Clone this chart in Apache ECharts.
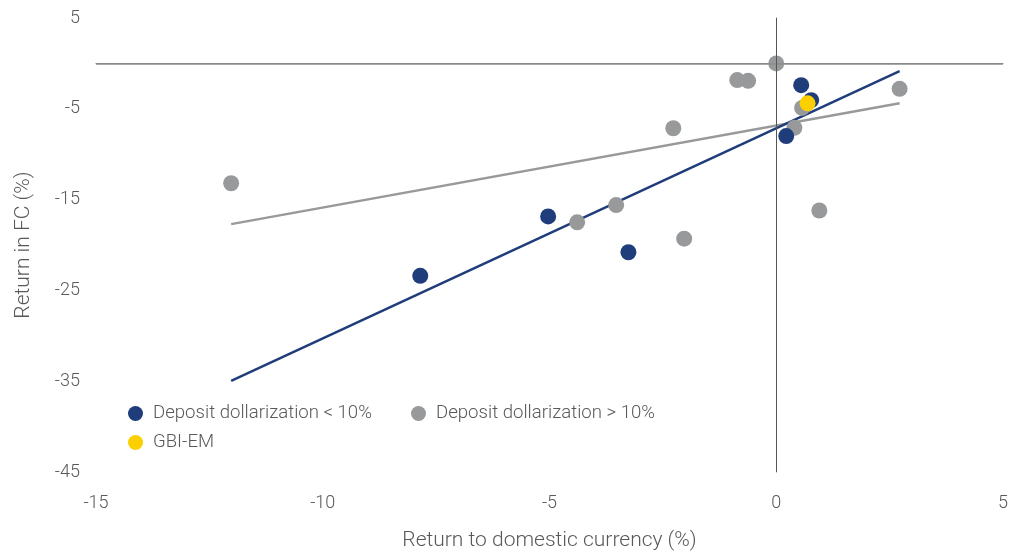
<!DOCTYPE html>
<html>
<head>
<meta charset="utf-8">
<script src="https://cdn.jsdelivr.net/npm/echarts@6/dist/echarts.min.js"></script>
<style>
  html, body { margin: 0; padding: 0; background: #fff; }
  #chart { width: 1013px; height: 552px; }
</style>
</head>
<body>
<div id="chart"></div>
<script>
  // [return to domestic currency, return in FC]
  const lowDollarization = [
    [-7.85, -23.4], [-5.03, -16.85], [-3.26, -20.8],
    [0.22, -8.0], [0.55, -2.4], [0.77, -4.05]
  ]
  const highDollarization = [
    [-12.02, -13.2], [-4.39, -17.5], [-3.53, -15.6], [-2.03, -19.3],
    [-2.27, -7.14], [-0.86, -1.84], [-0.62, -1.92], [0, 0],
    [0.57, -4.9], [0.40, -7.1], [0.95, -16.2], [2.72, -2.8]
  ]
  const gbiEm = [[0.69, -4.4]]

  // fitted lines, endpoints as drawn
  const lowTrend = [[-12.02, -34.96], [2.72, -0.85]]
  const highTrend = [[-12.02, -17.7], [2.72, -4.38]]

  const names = ['Deposit dollarization < 10%', 'Deposit dollarization > 10%', 'GBI-EM']

  const navy = '#1f3d7b'
  const grey = '#98999b'
  const yellow = '#fccf00'
  const text = '#595959'
  const font = 'Roboto, "Noto Sans", sans-serif'

  const chart = echarts.init(document.getElementById('chart'))

  function legend(name, left, top) {
    return {
      data: [name],
      left: left,
      top: top,
      padding: 0,
      icon: 'circle',
      itemWidth: 15,
      itemHeight: 15,
      selectedMode: false,
      textStyle: { color: text, fontSize: 18.6, fontFamily: font, fontWeight: 300, padding: [0, 0, 0, 5] }
    }
  }

  chart.setOption({
    animation: false,
    grid: { left: 96, right: 10, top: 18, bottom: 80, outerBoundsMode: 'none' },
    legend: [
      legend(names[0], 128, 404),
      legend(names[1], 411, 404),
      legend(names[2], 128, 433)
    ],
    xAxis: {
      type: 'value',
      min: -15,
      max: 5,
      interval: 5,
      name: 'Return to domestic currency (%)',
      nameLocation: 'middle',
      nameGap: 58,
      nameTextStyle: { color: text, fontSize: 21, fontFamily: font, fontWeight: 300 },
      axisLine: { lineStyle: { color: '#808080', width: 1 } },
      axisTick: { show: false },
      splitLine: { show: false },
      axisLabel: { color: text, fontSize: 18, fontFamily: font, fontWeight: 300, margin: 22 }
    },
    yAxis: {
      type: 'value',
      min: -45,
      max: 5,
      interval: 10,
      name: 'Return in FC (%)',
      nameLocation: 'middle',
      nameGap: 62,
      nameTextStyle: { color: text, fontSize: 21, fontFamily: font, fontWeight: 300 },
      axisLine: { show: true, lineStyle: { color: '#808080', width: 1 } },
      axisTick: { show: false },
      splitLine: { show: false },
      axisLabel: { color: text, fontSize: 18, fontFamily: font, fontWeight: 300, margin: 16 }
    },
    series: [
      {
        type: 'line',
        data: highTrend,
        symbol: 'none',
        silent: true,
        z: 2,
        lineStyle: { color: grey, width: 2.5 },
        markLine: {
          silent: true,
          symbol: 'none',
          label: { show: false },
          data: [
            { yAxis: 0, lineStyle: { color: '#8c8c8c', width: 1.5, type: 'solid' } },
            { xAxis: 0, lineStyle: { color: '#555555', width: 1, type: 'solid' } }
          ]
        }
      },
      {
        type: 'line',
        data: lowTrend,
        symbol: 'none',
        silent: true,
        z: 2,
        lineStyle: { color: navy, width: 2.5 }
      },
      {
        name: names[1],
        type: 'scatter',
        data: highDollarization,
        symbolSize: 16,
        z: 3,
        itemStyle: { color: grey, opacity: 1 }
      },
      {
        name: names[0],
        type: 'scatter',
        data: lowDollarization,
        symbolSize: 16,
        z: 4,
        itemStyle: { color: navy, opacity: 1 }
      },
      {
        name: names[2],
        type: 'scatter',
        data: gbiEm,
        symbolSize: 16,
        z: 5,
        itemStyle: { color: yellow, opacity: 1 }
      }
    ]
  })
</script>
</body>
</html>
